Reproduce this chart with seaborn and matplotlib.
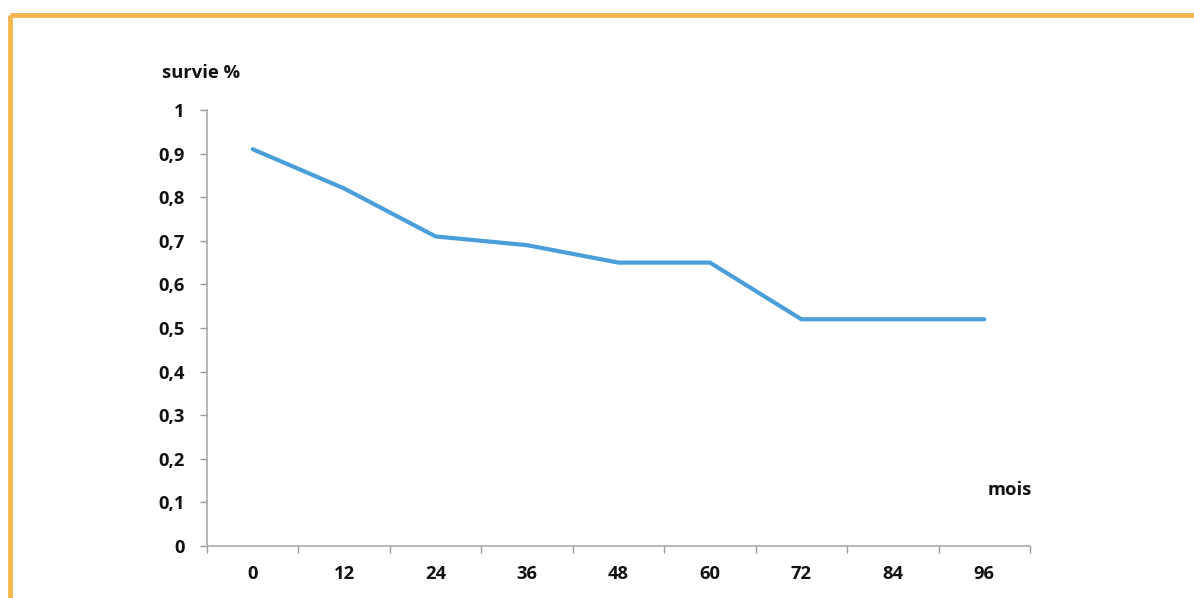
import matplotlib
matplotlib.use("Agg")
import matplotlib.pyplot as plt
from matplotlib.lines import Line2D
import seaborn as sns
import pandas as pd
import numpy as np

months = ["0", "12", "24", "36", "48", "60", "72", "84", "96"]
survival = [0.91, 0.82, 0.71, 0.69, 0.65, 0.65, 0.52, 0.52, 0.52]
y_ticks = [0, 0.1, 0.2, 0.3, 0.4, 0.5, 0.6, 0.7, 0.8, 0.9, 1]
y_labels = ["0", "0,1", "0,2", "0,3", "0,4", "0,5", "0,6", "0,7", "0,8", "0,9", "1"]

sns.set_style("white")
plt.rcParams['font.family'] = ['Open Sans', 'DejaVu Sans']

df = pd.DataFrame({"pos": np.arange(len(months)), "survie": survival})

FS = 13.2
fig = plt.figure(figsize=(11.94, 5.98), dpi=100)
ax = fig.add_axes([207/1194, 1-546/598, (1030-207)/1194, (546-110)/598])
sns.lineplot(data=df, x="pos", y="survie", ax=ax, color="#4A9FDB", linewidth=3)

ax.set_xlim(-0.5, len(months) - 0.5)
ax.set_ylim(0, 1)
ax.set_xticks(np.arange(len(months)))
ax.set_xticklabels(months, fontsize=FS, fontweight="bold", color="#111111")
ax.set_xticks(np.arange(len(months) + 1) - 0.5, minor=True)
ax.tick_params(axis="x", which="major", length=0, pad=13.5)
ax.tick_params(axis="x", which="minor", length=5, width=1, color="#999999", direction="out", bottom=True)
ax.set_yticks(y_ticks)
ax.set_yticklabels(y_labels, fontsize=FS, fontweight="bold", color="#111111")
ax.tick_params(axis="y", length=5, width=1, color="#999999", direction="out", left=True, pad=11)
ax.set_xlabel("")
ax.set_ylabel("")
for s in ["top", "right"]:
    ax.spines[s].set_visible(False)
for s in ["left", "bottom"]:
    ax.spines[s].set_color("#AAAAAA")
    ax.spines[s].set_linewidth(1.2)

fig.text(201/1194, 1-73/598, "survie %", ha="center", va="center", fontsize=FS, fontweight="bold", color="#111111")
fig.text(1010/1194, 1-490/598, "mois", ha="center", va="center", fontsize=FS, fontweight="bold", color="#111111")

# orange frame (top and left)
fig.add_artist(Line2D([10/1194, 1], [1-15/598, 1-15/598], transform=fig.transFigure, color="#F2B64F", linewidth=3.5, solid_capstyle="butt"))
fig.add_artist(Line2D([10/1194, 10/1194], [0, 1-15/598], transform=fig.transFigure, color="#F2B64F", linewidth=3.5, solid_capstyle="butt"))

fig.savefig("out.png", dpi=100)
